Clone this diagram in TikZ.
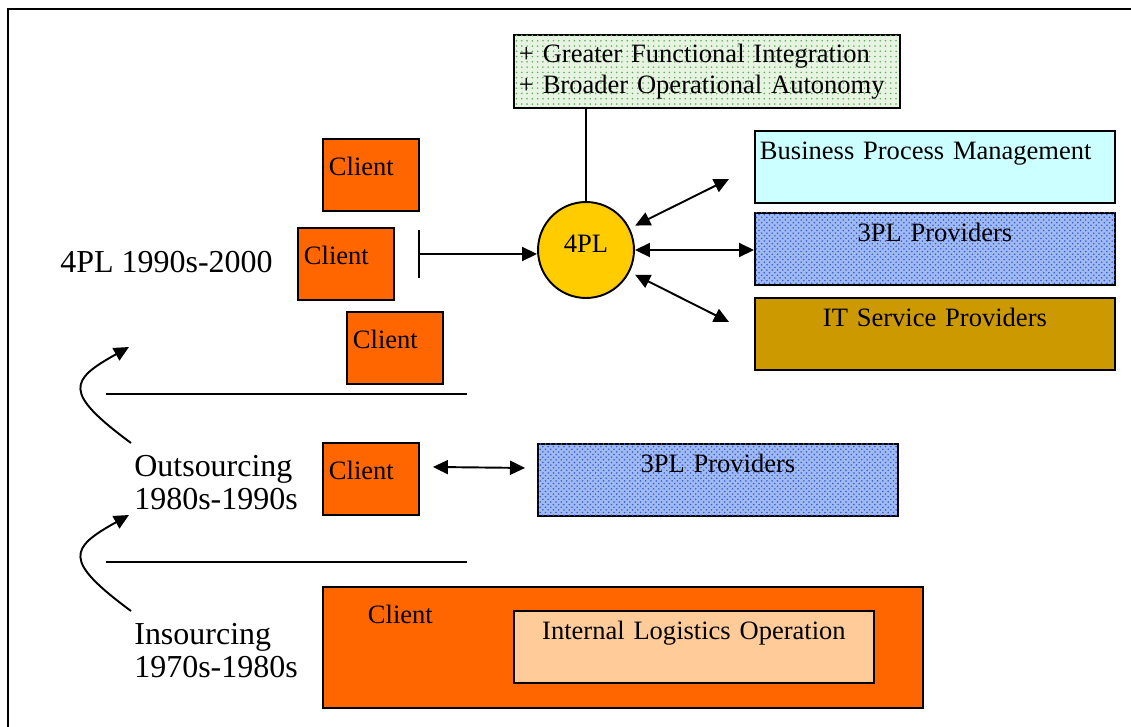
\documentclass[tikz,border=0pt]{standalone}
\usepackage{fontspec}
\setmainfont{Liberation Serif}
\usepackage{xcolor}
\usepackage{tikz}
\usetikzlibrary{positioning}
\usetikzlibrary{arrows.meta}
\usetikzlibrary{patterns}

\definecolor{clientorange}{HTML}{FF6600}
\definecolor{hubyellow}{HTML}{FFCC00}
\definecolor{bpmcyan}{HTML}{CCFFFF}
\definecolor{itgold}{HTML}{CC9900}
\definecolor{ilopeach}{HTML}{FFCC99}
\definecolor{plblue}{HTML}{A2BAF2}
\definecolor{pldots}{HTML}{2F5CE0}
\definecolor{gainsgreen}{HTML}{E8F4E2}
\definecolor{gainsdots}{HTML}{5CAE5C}

\begin{document}
\begin{tikzpicture}[
  x=0.02cm, y=-0.02cm,
  font=\fontsize{15.1}{17.6}\selectfont,
  client/.style={draw, fill=clientorange, line width=1.1pt, anchor=north west, minimum width=1.92cm, inner xsep=0.12cm, inner ysep=0pt, text width=1.68cm, align=left, text height=0.74cm, text depth=0.70cm},
  provider/.style={draw, line width=1.1pt, anchor=north west, inner xsep=0.1cm, inner ysep=0pt, text width=7.0cm, align=center, text height=0.57cm, text depth=0.87cm},
  threepl/.style={provider, fill=plblue, postaction={pattern=crosshatch dots, pattern color=pldots}},
  gains/.style={draw, line width=1.1pt, anchor=north west, fill=gainsgreen, postaction={pattern=dots, pattern color=gainsdots}, align=left, text width=7.52cm, inner xsep=0.1cm, minimum height=1.46cm},
  hub/.style={circle, draw, fill=hubyellow, line width=1.1pt, minimum size=1.92cm, inner sep=0pt, text depth=0.26cm},
  era/.style={font=\fontsize{18.2}{18.8}\selectfont, align=left, inner sep=0pt},
  arrow/.style={-{Triangle[length=0.3cm, width=0.28cm]}, line width=1.1pt},
  duo/.style={{Triangle[length=0.3cm, width=0.28cm]}-{Triangle[length=0.3cm, width=0.28cm]}, line width=1.1pt},
  gate/.style={{Bar[width=0.96cm]}-{Triangle[length=0.3cm, width=0.28cm]}, line width=1.1pt},
  rule/.style={line width=1.1pt}
]
\useasboundingbox (0,0) rectangle (1131,726);

% Outer frame
\draw[line width=1.7pt] (8,740) |- (1140,9);

% Top: 4PL era
\node[era, anchor=base west] (e4pl) at (60,272) {4PL 1990s-2000};
\node[client] (c1) at (322,138) {Client};
\node[client] (c2) at (297,227) {Client};
\node[client] (c3) at (346,311) {Client};
\node[hub] (hub) at (586,250) {4PL};
\node[gains] (gain) at (513,34) {+ Greater Functional Integration\\+ Broader Operational Autonomy};
\draw[rule] (gain.south -| hub) -- (hub);

% Right: provider groups around the 4PL
\node[provider, fill=bpmcyan, align=left] (bpm) at (754,130) {Business Process Management};
\node[threepl, below=0.16cm of bpm] (tpl) {3PL Providers};
\node[provider, fill=itgold, below=0.22cm of tpl] (its) {IT Service Providers};

\coordinate (gate) at (418,254);
\coordinate (tobpm) at (729,179);
\coordinate (toits) at (729,322);
\draw[gate] (gate) -- (gate -| hub.west);
\draw[duo, shorten <=0.12cm] (hub) -- (tobpm);
\draw[duo] (hub) -- (hub -| tpl.west);
\draw[duo, shorten <=0.12cm] (hub) -- (toits);

% Dividers and era steps
\draw[rule] (106,394) -- (467,394);
\draw[rule] (106,562) -- (467,562);
\coordinate (riseA) at (131,443);
\coordinate (riseAtip) at (129,347);
\coordinate (riseB) at (131,611);
\coordinate (riseBtip) at (129,515);
\draw[arrow] (riseA) .. controls (62,392) and (70,380) .. (riseAtip);
\draw[arrow] (riseB) .. controls (62,560) and (70,548) .. (riseBtip);

% Middle: outsourcing era
\node[era, anchor=north west] (eout) at (134,455) {Outsourcing\\1980s-1990s};
\node[client] (oc) at (322,442) {Client};
\node[threepl] (tplb) at (537,443) {3PL Providers};
\draw[duo] ([yshift=0.24cm, xshift=0.26cm]oc.east) -- ([yshift=0.24cm, xshift=-0.24cm]tplb.west);

% Bottom: insourcing era
\node[era, anchor=north west] (eins) at (134,623) {Insourcing\\1970s-1980s};
\node[client, text width=10.2cm, inner xsep=0.9cm, text height=0.74cm, text depth=1.68cm] (ic) at (322,586) {Client};
\node[provider, fill=ilopeach] (ilo) at (513,610) {Internal Logistics Operation};

\end{tikzpicture}
\end{document}
